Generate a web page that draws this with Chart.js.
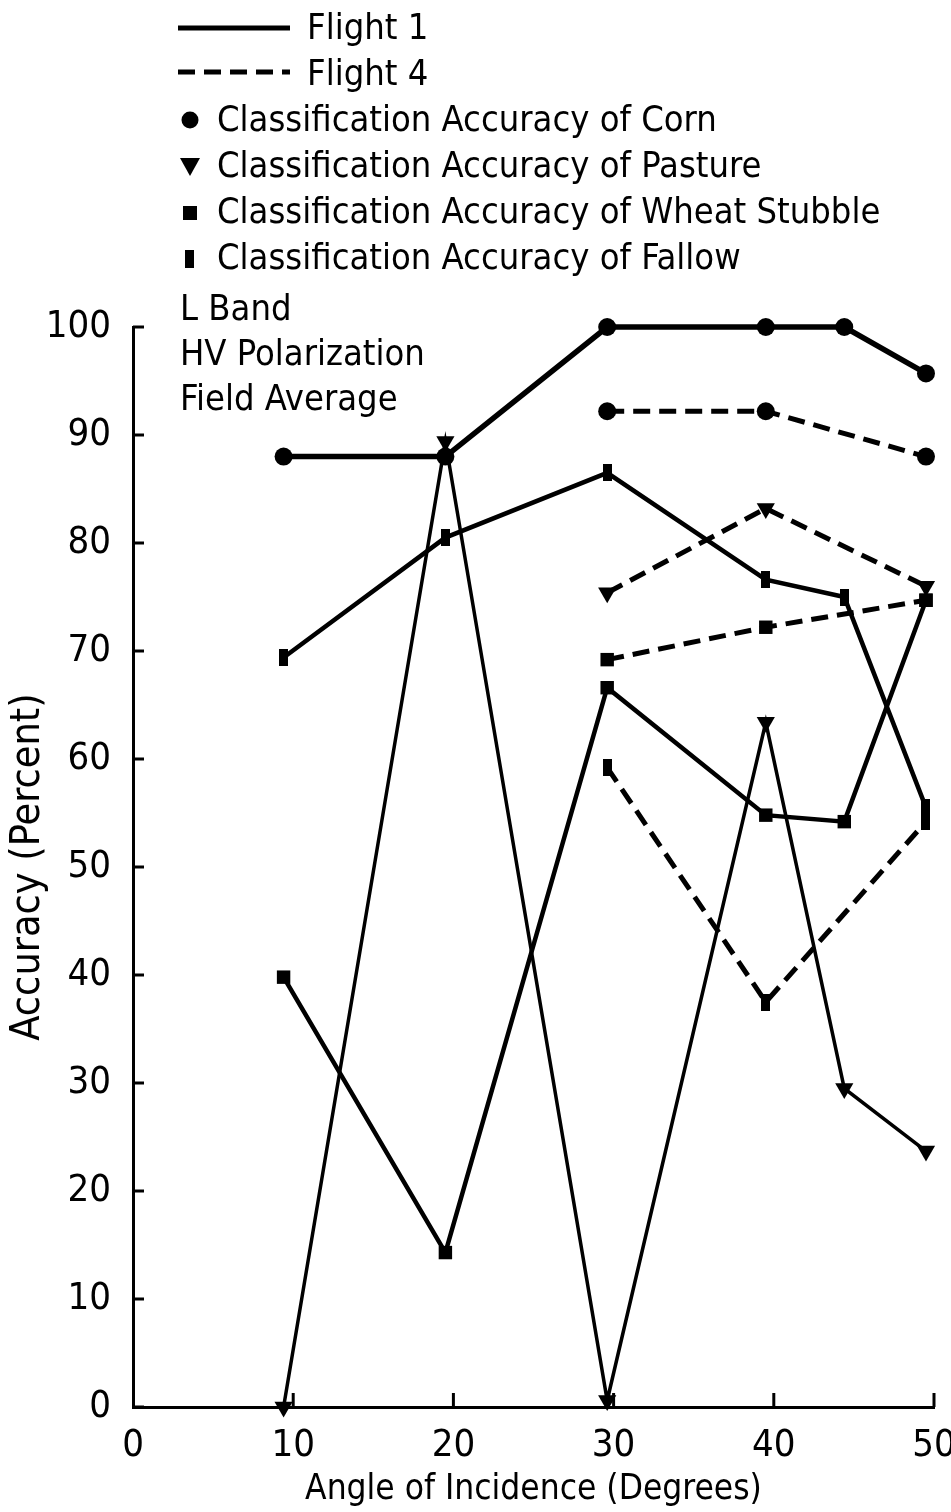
<!DOCTYPE html>
<html>
<head>
<meta charset="utf-8">
<script src="https://cdn.jsdelivr.net/npm/chart.js"></script>
<style>
  html, body { margin: 0; padding: 0; background: #fff; }
  #wrap { width: 951px; height: 1512px; position: relative; }
</style>
</head>
<body>
<div id="wrap"><canvas id="chart"></canvas></div>
<script>
// angle of incidence (degrees)
const angles = [9.4, 19.5, 29.6, 39.5, 44.4, 49.5];

// accuracy in percent, null where a flight has no point
const cornF1    = [88, 88, 100, 100, 100, 95.7];
const cornF4    = [null, null, 92.2, 92.2, null, 88];
const pastureF1 = [0, 89.4, 0.6, 63.4, 29.5, 23.7];
const pastureF4 = [null, null, 75.4, 83.2, null, 76];
const wheatF1   = [39.8, 14.3, 66.6, 54.8, 54.2, 74.7];
const wheatF4   = [null, null, 69.2, 72.2, null, 74.7];
const fallowF1  = [69.4, 80.5, 86.5, 76.6, 75.0, 55.5];
const fallowF4  = [null, null, 59.2, 37.5, null, 54.2];

const xTicks = [0, 10, 20, 30, 40, 50];
const yTicks = [0, 10, 20, 30, 40, 50, 60, 70, 80, 90, 100];

const FONT = "'DejaVu Sans Condensed', 'DejaVu Sans', sans-serif";
const INK = '#000';

// narrow upright bar used as the fallow marker
function barMarker(w, h) {
  const c = document.createElement('canvas');
  c.width = w; c.height = h;
  const g = c.getContext('2d');
  g.fillStyle = INK;
  g.fillRect(0, 0, w, h);
  return c;
}
const fallowMark = barMarker(9, 17);

function pts(values) {
  return values.map((v, i) => ({ x: angles[i], y: v }));
}

function series(label, values, opts) {
  return Object.assign({
    label,
    data: pts(values),
    borderColor: INK,
    backgroundColor: INK,
    pointBackgroundColor: INK,
    pointBorderColor: INK,
    pointBorderWidth: 0,
    spanGaps: true,
    tension: 0,
    clip: false
  }, opts);
}

const dash = [17, 9];

const datasets = [
  series('Corn, Flight 1', cornF1, { borderWidth: 5.5, pointStyle: 'circle', pointRadius: 9 }),
  series('Corn, Flight 4', cornF4, { borderWidth: 5, borderDash: dash, pointStyle: 'circle', pointRadius: 9 }),
  series('Pasture, Flight 1', pastureF1, { borderWidth: 3.5, pointStyle: 'triangle', pointRotation: 180, pointRadius: 10.5 }),
  series('Pasture, Flight 4', pastureF4, { borderWidth: 5, borderDash: dash, pointStyle: 'triangle', pointRotation: 180, pointRadius: 10.5 }),
  series('Wheat Stubble, Flight 1', wheatF1, { borderWidth: 4.5, pointStyle: 'rect', pointRadius: 9.5 }),
  series('Wheat Stubble, Flight 4', wheatF4, { borderWidth: 5, borderDash: dash, pointStyle: 'rect', pointRadius: 9.5 }),
  series('Fallow, Flight 1', fallowF1, { borderWidth: 4.5, pointStyle: fallowMark, pointRadius: 9 }),
  series('Fallow, Flight 4', fallowF4, { borderWidth: 5, borderDash: dash, pointStyle: fallowMark, pointRadius: 9 })
];

// tick marks in the original point into the plot
const inwardTicks = {
  id: 'inwardTicks',
  afterDraw(chart) {
    const { ctx, chartArea: a, scales: { x, y } } = chart;
    ctx.save();
    ctx.strokeStyle = INK;
    ctx.lineWidth = 3;
    yTicks.forEach(v => {
      const py = y.getPixelForValue(v);
      ctx.beginPath(); ctx.moveTo(a.left, py); ctx.lineTo(a.left + 11, py); ctx.stroke();
    });
    xTicks.slice(1).forEach(v => {
      const px = x.getPixelForValue(v);
      ctx.beginPath(); ctx.moveTo(px, a.bottom); ctx.lineTo(px, a.bottom - 14); ctx.stroke();
    });
    ctx.restore();
  }
};

// hand-drawn key and notes at the top of the figure
const keyBox = {
  id: 'keyBox',
  afterDraw(chart) {
    const ctx = chart.ctx;
    ctx.save();
    ctx.fillStyle = INK;
    ctx.strokeStyle = INK;
    ctx.font = '36px ' + FONT;
    ctx.textBaseline = 'middle';
    ctx.textAlign = 'left';

    ctx.lineWidth = 5;
    ctx.beginPath(); ctx.moveTo(178, 28); ctx.lineTo(290, 28); ctx.stroke();
    ctx.fillText('Flight 1', 307, 30);

    ctx.setLineDash([17, 9]);
    ctx.beginPath(); ctx.moveTo(178, 72); ctx.lineTo(290, 72); ctx.stroke();
    ctx.setLineDash([]);
    ctx.fillText('Flight 4', 307, 76);

    ctx.beginPath(); ctx.arc(190, 120, 8.5, 0, Math.PI * 2); ctx.fill();
    ctx.fillText('Classification Accuracy of Corn', 217, 122);

    ctx.beginPath(); ctx.moveTo(180, 158); ctx.lineTo(200, 158); ctx.lineTo(190, 176); ctx.closePath(); ctx.fill();
    ctx.fillText('Classification Accuracy of Pasture', 217, 168);

    ctx.fillRect(183, 206, 14, 14);
    ctx.fillText('Classification Accuracy of Wheat Stubble', 217, 214);

    ctx.fillRect(185, 250, 9, 18);
    ctx.fillText('Classification Accuracy of Fallow', 217, 260);

    ctx.fillText('L Band', 180, 311);
    ctx.fillText('HV Polarization', 180, 356);
    ctx.fillText('Field Average', 180, 401);
    ctx.restore();
  }
};

new Chart(document.getElementById('chart'), {
  type: 'line',
  data: { datasets },
  options: {
    responsive: true,
    maintainAspectRatio: false,
    animation: false,
    layout: { padding: { top: 327, right: 17, left: 0, bottom: 0 } },
    plugins: {
      legend: { display: false },
      tooltip: { enabled: false }
    },
    scales: {
      x: {
        type: 'linear',
        min: 0,
        max: 50,
        afterBuildTicks: s => { s.ticks = xTicks.map(v => ({ value: v })); },
        afterFit: s => { s.height = 105; s.paddingLeft = 0; s.paddingRight = 0; },
        grid: { display: false, drawTicks: false },
        border: { display: true, color: INK, width: 3 },
        ticks: { color: INK, padding: 16, font: { family: FONT, size: 38 } },
        title: {
          display: true,
          text: 'Angle of Incidence (Degrees)',
          color: INK,
          font: { family: FONT, size: 35 },
          padding: { top: 0, bottom: 1 }
        }
      },
      y: {
        min: 0,
        max: 100,
        afterBuildTicks: s => { s.ticks = yTicks.map(v => ({ value: v })); },
        afterFit: s => { s.width = 133; },
        grid: { display: false, drawTicks: false },
        border: { display: true, color: INK, width: 3 },
        ticks: { color: INK, padding: 22, font: { family: FONT, size: 38 } },
        title: {
          display: true,
          text: 'Accuracy (Percent)',
          color: INK,
          font: { family: FONT, size: 41 },
          padding: { top: 4, bottom: 0 }
        }
      }
    }
  },
  plugins: [inwardTicks, keyBox]
});
</script>
</body>
</html>
